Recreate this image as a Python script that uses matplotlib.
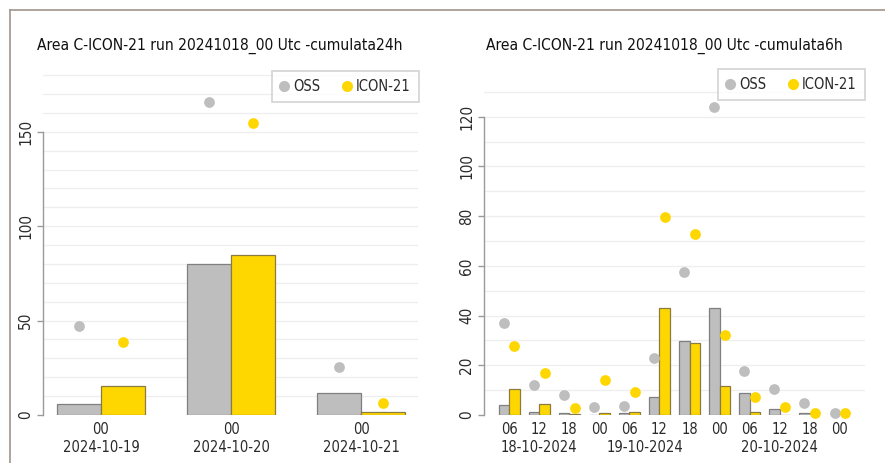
import matplotlib
matplotlib.use("Agg")
import matplotlib.pyplot as plt
from matplotlib.lines import Line2D
from matplotlib.ticker import FixedLocator

plt.rcParams["font.family"] = ["DejaVu Sans"]
plt.rcParams["font.stretch"] = "condensed"

GRAY = "#BEBEBE"
GOLD = "#FFD700"
GRAY_EDGE = "#7f7f7f"
GOLD_EDGE = "#8a7b40"
GRID = "#EEEEEE"
AXIS = "#9A9A9A"
TEXT = "#2a2a2a"
FRAME = "#A0968C"

# ---- left panel: 24h totals
left_hours = ["00", "00", "00"]
left_days = ["2024-10-19", "2024-10-20", "2024-10-21"]
left_oss_bar = [5.7, 80.0, 11.8]
left_icon_bar = [15.4, 84.7, 1.6]
left_oss_pt = [47.1, 165.8, 25.6]
left_icon_pt = [38.5, 154.5, 6.2]
left_yticks = [0, 50, 100, 150]

# ---- right panel: 6h totals
right_hours = ["06", "12", "18", "00", "06", "12", "18", "00", "06", "12", "18", "00"]
right_days = (["18-10-2024"] * 3 + ["19-10-2024"] * 4 + ["20-10-2024"] * 5)
right_oss_bar = [3.9, 1.3, 0.7, 0.2, 0.7, 7.1, 29.6, 43.0, 9.0, 2.3, 0.8, 0.2]
right_icon_bar = [10.5, 4.4, 0.3, 0.7, 1.2, 43.0, 29.1, 11.8, 1.3, 0.2, 0.2, 0.1]
right_oss_pt = [37.1, 12.1, 8.0, 3.1, 3.6, 22.8, 57.4, 124.0, 17.8, 10.3, 4.7, 0.9]
right_icon_pt = [27.9, 17.0, 2.8, 14.1, 9.2, 79.6, 72.7, 32.2, 7.1, 3.1, 0.7, 0.7]
right_yticks = [0, 20, 40, 60, 80, 100, 120]

W, H = 885, 463
fig = plt.figure(figsize=(W / 100, H / 100), dpi=100)


def px_box(x0, x1, y_bottom, y_top):
    return [x0 / W, 1 - y_bottom / H, (x1 - x0) / W, (y_bottom - y_top) / H]


def style_axes(ax, yticks, ymax, grid_top):
    for s in ["top", "right", "bottom"]:
        ax.spines[s].set_visible(False)
    ax.spines["left"].set_bounds(yticks[0], yticks[-1])
    ax.spines["left"].set_color(AXIS)
    ax.spines["left"].set_linewidth(1.0)
    ax.set_ylim(0, ymax)
    ax.yaxis.set_major_locator(FixedLocator(yticks))
    for g in range(10, grid_top + 1, 10):
        ax.axhline(g, color=GRID, lw=0.9, zorder=0)
    ax.tick_params(axis="y", length=4, width=1.0, color=AXIS, labelsize=11,
                   labelcolor=TEXT, labelrotation=90, pad=3)
    for lab in ax.get_yticklabels():
        lab.set_va("center")
    ax.tick_params(axis="x", length=0, labelsize=10.5, labelcolor=TEXT, pad=5)


def draw_pair(ax, n, w, oss_bar, icon_bar, oss_pt, icon_pt):
    x = list(range(n))
    xo = [v - w / 2 for v in x]
    xi = [v + w / 2 for v in x]
    ax.bar(xo, oss_bar, width=w, color=GRAY, edgecolor=GRAY_EDGE, lw=0.9, zorder=2)
    ax.bar(xi, icon_bar, width=w, color=GOLD, edgecolor=GOLD_EDGE, lw=0.9, zorder=2)
    ax.scatter(xo, oss_pt, s=60, color=GRAY, lw=0, zorder=3, clip_on=False)
    ax.scatter(xi, icon_pt, s=60, color=GOLD, lw=0, zorder=3, clip_on=False)


def add_legend(ax, right_px, top_px):
    handles = [Line2D([], [], ls="none", marker="o", ms=8, color=GRAY, mec="none"),
               Line2D([], [], ls="none", marker="o", ms=8, color=GOLD, mec="none")]
    leg = ax.legend(handles, ["OSS", "ICON-21"], ncol=2, loc="upper right",
                    bbox_to_anchor=(right_px / W, 1 - top_px / H),
                    bbox_transform=fig.transFigure, borderaxespad=0,
                    fontsize=10.5, frameon=True, fancybox=False,
                    handlelength=0.6, handletextpad=0.35, columnspacing=1.5,
                    borderpad=0.55, labelcolor=TEXT)
    leg.get_frame().set_edgecolor("#C8C8C8")
    leg.get_frame().set_linewidth(1.2)


# left axes
axL = fig.add_axes(px_box(43, 418, 415, 415 - 185 * 1.888))
draw_pair(axL, 3, 0.335, left_oss_bar, left_icon_bar, left_oss_pt, left_icon_pt)
axL.set_xlim(-0.446, 2.438)
style_axes(axL, left_yticks, 185, 180)
axL.set_xticks(range(3))
axL.set_xticklabels([f"{h}\n{d}" for h, d in zip(left_hours, left_days)], linespacing=1.25)
add_legend(axL, 419, 70.7)
fig.text(219.5 / W, 1 - 46 / H, "Area C-ICON-21 run 20241018_00 Utc -cumulata24h",
         ha="center", va="center", fontsize=11.2, color="#111111")

# right axes
axR = fig.add_axes(px_box(484, 865, 415, 415 - 135 * 2.486))
n = len(right_hours)
draw_pair(axR, n, 0.35, right_oss_bar, right_icon_bar, right_oss_pt, right_icon_pt)
axR.set_xlim(-0.84, 11.84)
style_axes(axR, right_yticks, 135, 130)
axR.set_xticks(range(n))
axR.set_xticklabels(right_hours)
# day labels centred under the 6h slots belonging to each day
for day in dict.fromkeys(right_days):
    idx = [i for i, d in enumerate(right_days) if d == day]
    cx = sum(idx) / len(idx)
    axR.annotate(day, xy=(cx, 0), xycoords=("data", "axes fraction"),
                 xytext=(0, -23.5), textcoords="offset points",
                 ha="center", va="center", fontsize=10.5, color=TEXT)
add_legend(axR, 865, 69)
fig.text(664.5 / W, 1 - 46 / H, "Area C-ICON-21 run 20241018_00 Utc -cumulata6h",
         ha="center", va="center", fontsize=11.2, color="#111111")

# outer frame lines
fig.add_artist(Line2D([10 / W, 1], [1 - 10 / H, 1 - 10 / H], transform=fig.transFigure,
                      color=FRAME, lw=1.2))
fig.add_artist(Line2D([10 / W, 10 / W], [1 - 10 / H, 0], transform=fig.transFigure,
                      color=FRAME, lw=1.2))

fig.savefig("out.png", dpi=100)
